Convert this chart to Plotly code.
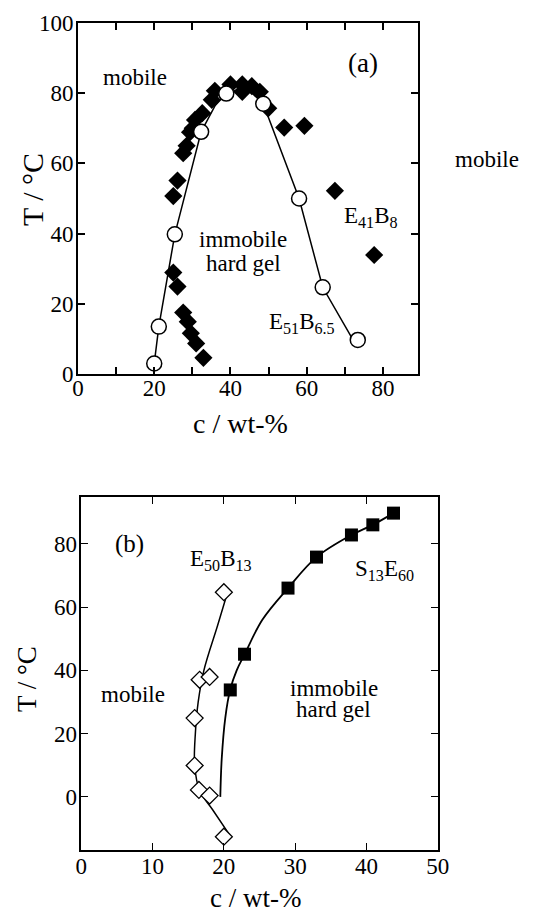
import plotly.graph_objects as go

# ---- Panel (a) data ----
e41b8_c = [40, 43.1, 45.6, 43.1, 47.7, 49.9, 54.1, 59.4, 67.4, 77.7, 35.9, 35.1, 32.6, 30.7,
           30.1, 29.4, 28.5, 27.6, 26.1, 25.0, 25.0, 26.1, 27.6, 28.8, 29.6, 31.0, 32.9]
e41b8_T = [82.5, 82.5, 82, 80.4, 80.4, 75.7, 70.2, 70.7, 52.2, 33.9, 80.7, 78.1, 74.3, 72.4,
           70, 68.9, 65, 62.9, 55.1, 50.7, 28.9, 24.9, 17.5, 14.9, 11.6, 8.7, 4.6]
e51_c = [20.0, 21.2, 25.4, 32.3, 38.9, 48.6, 58.0, 64.2, 73.4]
e51_T = [3, 13.5, 39.8, 69, 79.9, 77, 50, 24.7, 9.7]
e51_line_c = [20.0, 21.2, 25.4, 32.3, 36, 39, 42, 45, 48.6, 58.0, 64.2, 72]
e51_line_T = [3, 13.5, 39.8, 69, 76.5, 80, 81, 80.7, 77, 50, 24.7, 10]

# ---- Panel (b) data ----
e50b13_c = [20.0, 16.6, 18.0, 15.9, 15.9, 16.5, 18.0, 20.0]
e50b13_T = [64.7, 37, 37.9, 24.9, 9.9, 2.2, 0.4, -12.6]
e50b13_curve_c = [20.3, 19.1, 17.2, 16.4, 16.0, 15.9, 16.6, 18.4, 20.8]
e50b13_curve_T = [63, 54, 40, 30, 20, 10, 2, -4, -12]
s13e60_c = [43.8, 40.9, 37.9, 33.0, 29.0, 22.9, 20.9]
s13e60_T = [89.7, 86, 82.8, 75.8, 66, 45.1, 33.8]
s13e60_curve_c = [19.5, 19.7, 20.2, 20.9, 21.8, 22.9, 25.4, 29, 33, 37.9, 40.9, 43.8]
s13e60_curve_T = [0, 12, 25, 34, 40, 45, 56, 66, 75.8, 82.8, 86, 89.7]

FONT = "Liberation Serif, Times New Roman, serif"
fig = go.Figure()

# panel (a)
fig.add_trace(go.Scatter(x=e51_line_c, y=e51_line_T, mode="lines",
                         line=dict(color="black", width=1.5), xaxis="x", yaxis="y", showlegend=False))
fig.add_trace(go.Scatter(x=e41b8_c, y=e41b8_T, mode="markers",
                         marker=dict(symbol="diamond", size=14, color="black"),
                         xaxis="x", yaxis="y", showlegend=False, cliponaxis=False))
fig.add_trace(go.Scatter(x=e51_c, y=e51_T, mode="markers",
                         marker=dict(symbol="circle", size=15, color="white",
                                     line=dict(color="black", width=1.5)),
                         xaxis="x", yaxis="y", showlegend=False, cliponaxis=False))

# panel (b)
fig.add_trace(go.Scatter(x=e50b13_curve_c, y=e50b13_curve_T, mode="lines", line_shape="spline",
                         line=dict(color="black", width=1.5), xaxis="x2", yaxis="y2", showlegend=False))
fig.add_trace(go.Scatter(x=s13e60_curve_c, y=s13e60_curve_T, mode="lines", line_shape="spline",
                         line=dict(color="black", width=1.8), xaxis="x2", yaxis="y2", showlegend=False))
fig.add_trace(go.Scatter(x=e50b13_c, y=e50b13_T, mode="markers",
                         marker=dict(symbol="diamond", size=13, color="white",
                                     line=dict(color="black", width=1.3)),
                         xaxis="x2", yaxis="y2", showlegend=False, cliponaxis=False))
fig.add_trace(go.Scatter(x=s13e60_c, y=s13e60_T, mode="markers",
                         marker=dict(symbol="square", size=13, color="black"),
                         xaxis="x2", yaxis="y2", showlegend=False, cliponaxis=False))

axis_common = dict(showline=True, mirror="ticks", linecolor="black", ticks="inside",
                   tickcolor="black", showgrid=False, zeroline=False, automargin=False,
                   tickfont=dict(family=FONT, size=23, color="black"))

fig.update_layout(
    width=550, height=916, margin=dict(l=0, r=0, t=0, b=0, autoexpand=False),
    paper_bgcolor="white", plot_bgcolor="white",
    xaxis=dict(domain=[78/550, 418/550], anchor="y", range=[0, 89.2], dtick=20, tick0=0,
               ticklen=7, tickwidth=1.5, linewidth=2, ticklabelstandoff=-8,
               minor=dict(dtick=10, ticks="inside", ticklen=7, tickcolor="black", tickwidth=1.5),
               **axis_common),
    yaxis=dict(domain=[1-374/916, 1-23/916], anchor="x", range=[0, 100], dtick=20,
               ticklen=7, tickwidth=1.5, linewidth=2, ticklabelstandoff=-2, **axis_common),
    xaxis2=dict(domain=[81.3/550, 437.7/550], anchor="y2", range=[0, 50], dtick=10,
                ticklen=7, tickwidth=1.2, linewidth=1.5, ticklabelstandoff=-5, **axis_common),
    yaxis2=dict(domain=[1-850/916, 1-497/916], anchor="x2", range=[-16.8, 94.8], dtick=20, tick0=0,
                ticklen=7, tickwidth=1.2, linewidth=1.5, ticklabelstandoff=-2, **axis_common),
)

def txt(x, y, s, size=23, xref="x", yref="y", **kw):
    fig.add_annotation(x=x, y=y, xref=xref, yref=yref, text=s, showarrow=False,
                       xanchor="center", yanchor="middle",
                       font=dict(family=FONT, size=size, color="black"), **kw)

# panel (a) texts
txt(15, 84.6, "mobile")
txt(74.8, 88.6, "(a)", size=27)
txt(43.3, 38.2, "immobile")
txt(43.3, 31.6, "hard gel")
txt(76.9, 44.7, "E<sub>41</sub>B<sub>8</sub>")
txt(58.8, 14.5, "E<sub>51</sub>B<sub>6.5</sub>")
txt(487/550, 1-160/916, "mobile", xref="paper", yref="paper")
txt(240/550, 1-423/916, "c / wt-%", size=28, xref="paper", yref="paper")
txt(33/550, 1-190/916, "T / °C", size=30, xref="paper", yref="paper", textangle=-90)

# panel (b) texts
txt(6.8, 80, "(b)", xref="x2", yref="y2", size=25)
txt(19.6, 75, "E<sub>50</sub>B<sub>13</sub>", xref="x2", yref="y2")
txt(42.5, 71.8, "S<sub>13</sub>E<sub>60</sub>", xref="x2", yref="y2")
txt(7.2, 32.3, "mobile", xref="x2", yref="y2")
txt(35.4, 34.2, "immobile", xref="x2", yref="y2")
txt(35.4, 27.6, "hard gel", xref="x2", yref="y2")
txt(255/550, 1-898/916, "c / wt-%", size=27, xref="paper", yref="paper")
txt(27/550, 1-679/916, "T / °C", size=27, xref="paper", yref="paper", textangle=-90)

fig.write_html("out.html", config={"displayModeBar": False},
               post_script="document.body.style.margin='0';")
